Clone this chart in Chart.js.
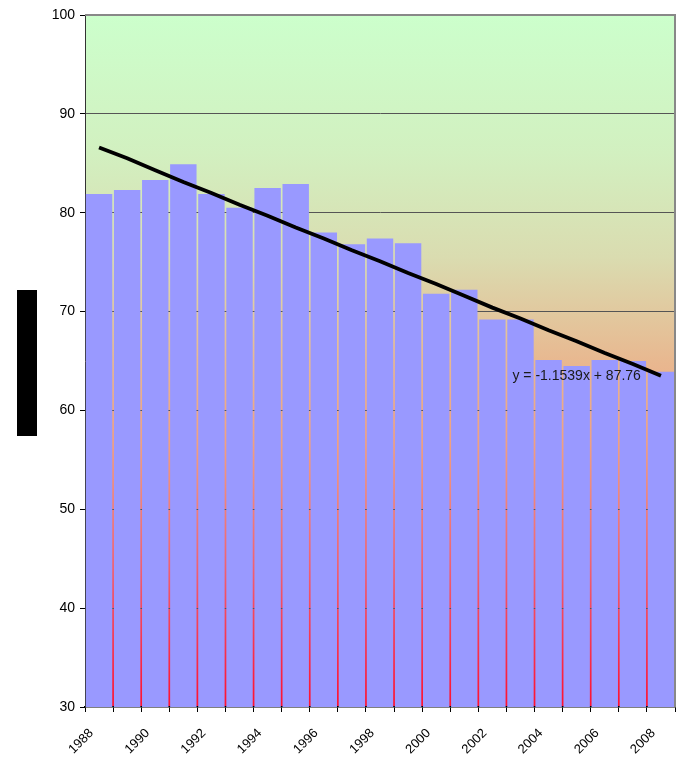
<!DOCTYPE html>
<html><head><meta charset="utf-8">
<script src="https://cdn.jsdelivr.net/npm/chart.js@4"></script>
<style>html,body{margin:0;padding:0;background:#fff}#wrap{width:680px;height:759px;position:relative}</style>
</head><body><div id="wrap"><canvas id="c" width="680" height="759"></canvas></div>
<script>
const years = ['1988','1989','1990','1991','1992','1993','1994','1995','1996','1997','1998','1999','2000','2001','2002','2003','2004','2005','2006','2007','2008'];
const values = [81.9, 82.3, 83.3, 84.9, 81.9, 80.5, 82.5, 82.9, 78.0, 76.8, 77.4, 76.9, 71.8, 72.2, 69.2, 69.2, 65.1, 64.5, 65.1, 65.0, 63.9];
const trend = [86.6, 85.5, 84.3, 83.1, 82.0, 80.8, 79.7, 78.5, 77.4, 76.2, 75.1, 73.9, 72.8, 71.6, 70.4, 69.3, 68.1, 67.0, 65.8, 64.7, 63.5];
const trendLabel = 'y = -1.1539x + 87.76';
const yMin = 30, yMax = 100, yStep = 10;

const deco = {
  id: 'deco',
  beforeDraw(chart) {
    const {ctx, chartArea: a} = chart;
    const g = ctx.createLinearGradient(0, a.top, 0, a.bottom);
    g.addColorStop(0, '#ccffcc');
    g.addColorStop(0.2, '#d2f0c0');
    g.addColorStop(0.35, '#dadcb0');
    g.addColorStop(0.5, '#e8b890');
    g.addColorStop(0.62, '#f0a080');
    g.addColorStop(0.8, '#f06070');
    g.addColorStop(1, '#ff1030');
    ctx.save();
    ctx.fillStyle = g;
    ctx.fillRect(a.left, a.top, a.right - a.left, a.bottom - a.top);
    ctx.fillStyle = '#000';
    ctx.fillRect(17, 290, 20, 146);
    ctx.restore();
  },
  afterDatasetsDraw(chart) {
    const {ctx, chartArea: a, scales} = chart;
    ctx.save();
    ctx.font = '14px "Liberation Sans", Arial, sans-serif';
    ctx.fillStyle = '#1a1a1a';
    ctx.textAlign = 'center';
    ctx.textBaseline = 'middle';
    ctx.fillText(trendLabel, scales.x.getPixelForValue(17), scales.y.getPixelForValue(63.5));
    ctx.strokeStyle = '#888';
    ctx.lineWidth = 2;
    ctx.beginPath();
    ctx.moveTo(a.left, a.top);
    ctx.lineTo(a.right, a.top);
    ctx.lineTo(a.right, a.bottom);
    ctx.stroke();
    ctx.restore();
  }
};

new Chart(document.getElementById('c'), {
  type: 'bar',
  data: {
    labels: years,
    datasets: [
      { type: 'line', data: trend, borderColor: '#000', borderWidth: 3.8, pointRadius: 0, tension: 0, order: 0, fill: false },
      { type: 'bar', data: values, backgroundColor: '#9999ff', borderWidth: 0, barPercentage: 0.94, categoryPercentage: 1, order: 1 }
    ]
  },
  options: {
    responsive: false,
    devicePixelRatio: 1,
    animation: false,
    layout: { padding: { top: 15, right: 5, left: 0, bottom: 0 } },
    plugins: { legend: { display: false }, tooltip: { enabled: false } },
    scales: {
      x: {
        offset: true,
        afterFit(s) { s.height = 52; },
        grid: { offset: true, drawOnChartArea: false, drawTicks: true, tickLength: 5, tickColor: '#000' },
        border: { color: '#000', width: 1.5 },
        ticks: {
          autoSkip: false, maxRotation: 45, minRotation: 45, padding: 6,
          color: '#000',
          font: { family: '"Liberation Sans", Arial, sans-serif', size: 13 },
          callback(v, i) { return i % 2 === 0 ? years[i] + '   ' : ''; }
        }
      },
      y: {
        min: yMin, max: yMax,
        afterFit(s) { s.width = 85; },
        grid: {
          color(c) { return (c.tick.value === yMin || c.tick.value === yMax) ? 'rgba(0,0,0,0)' : '#555'; },
          tickColor: '#000', tickLength: 5, lineWidth: 1
        },
        border: { color: '#333', width: 1 },
        ticks: {
          stepSize: yStep, padding: 5, color: '#000',
          font: { family: '"Liberation Sans", Arial, sans-serif', size: 14 }
        }
      }
    }
  },
  plugins: [deco]
});
</script>
</body></html>
